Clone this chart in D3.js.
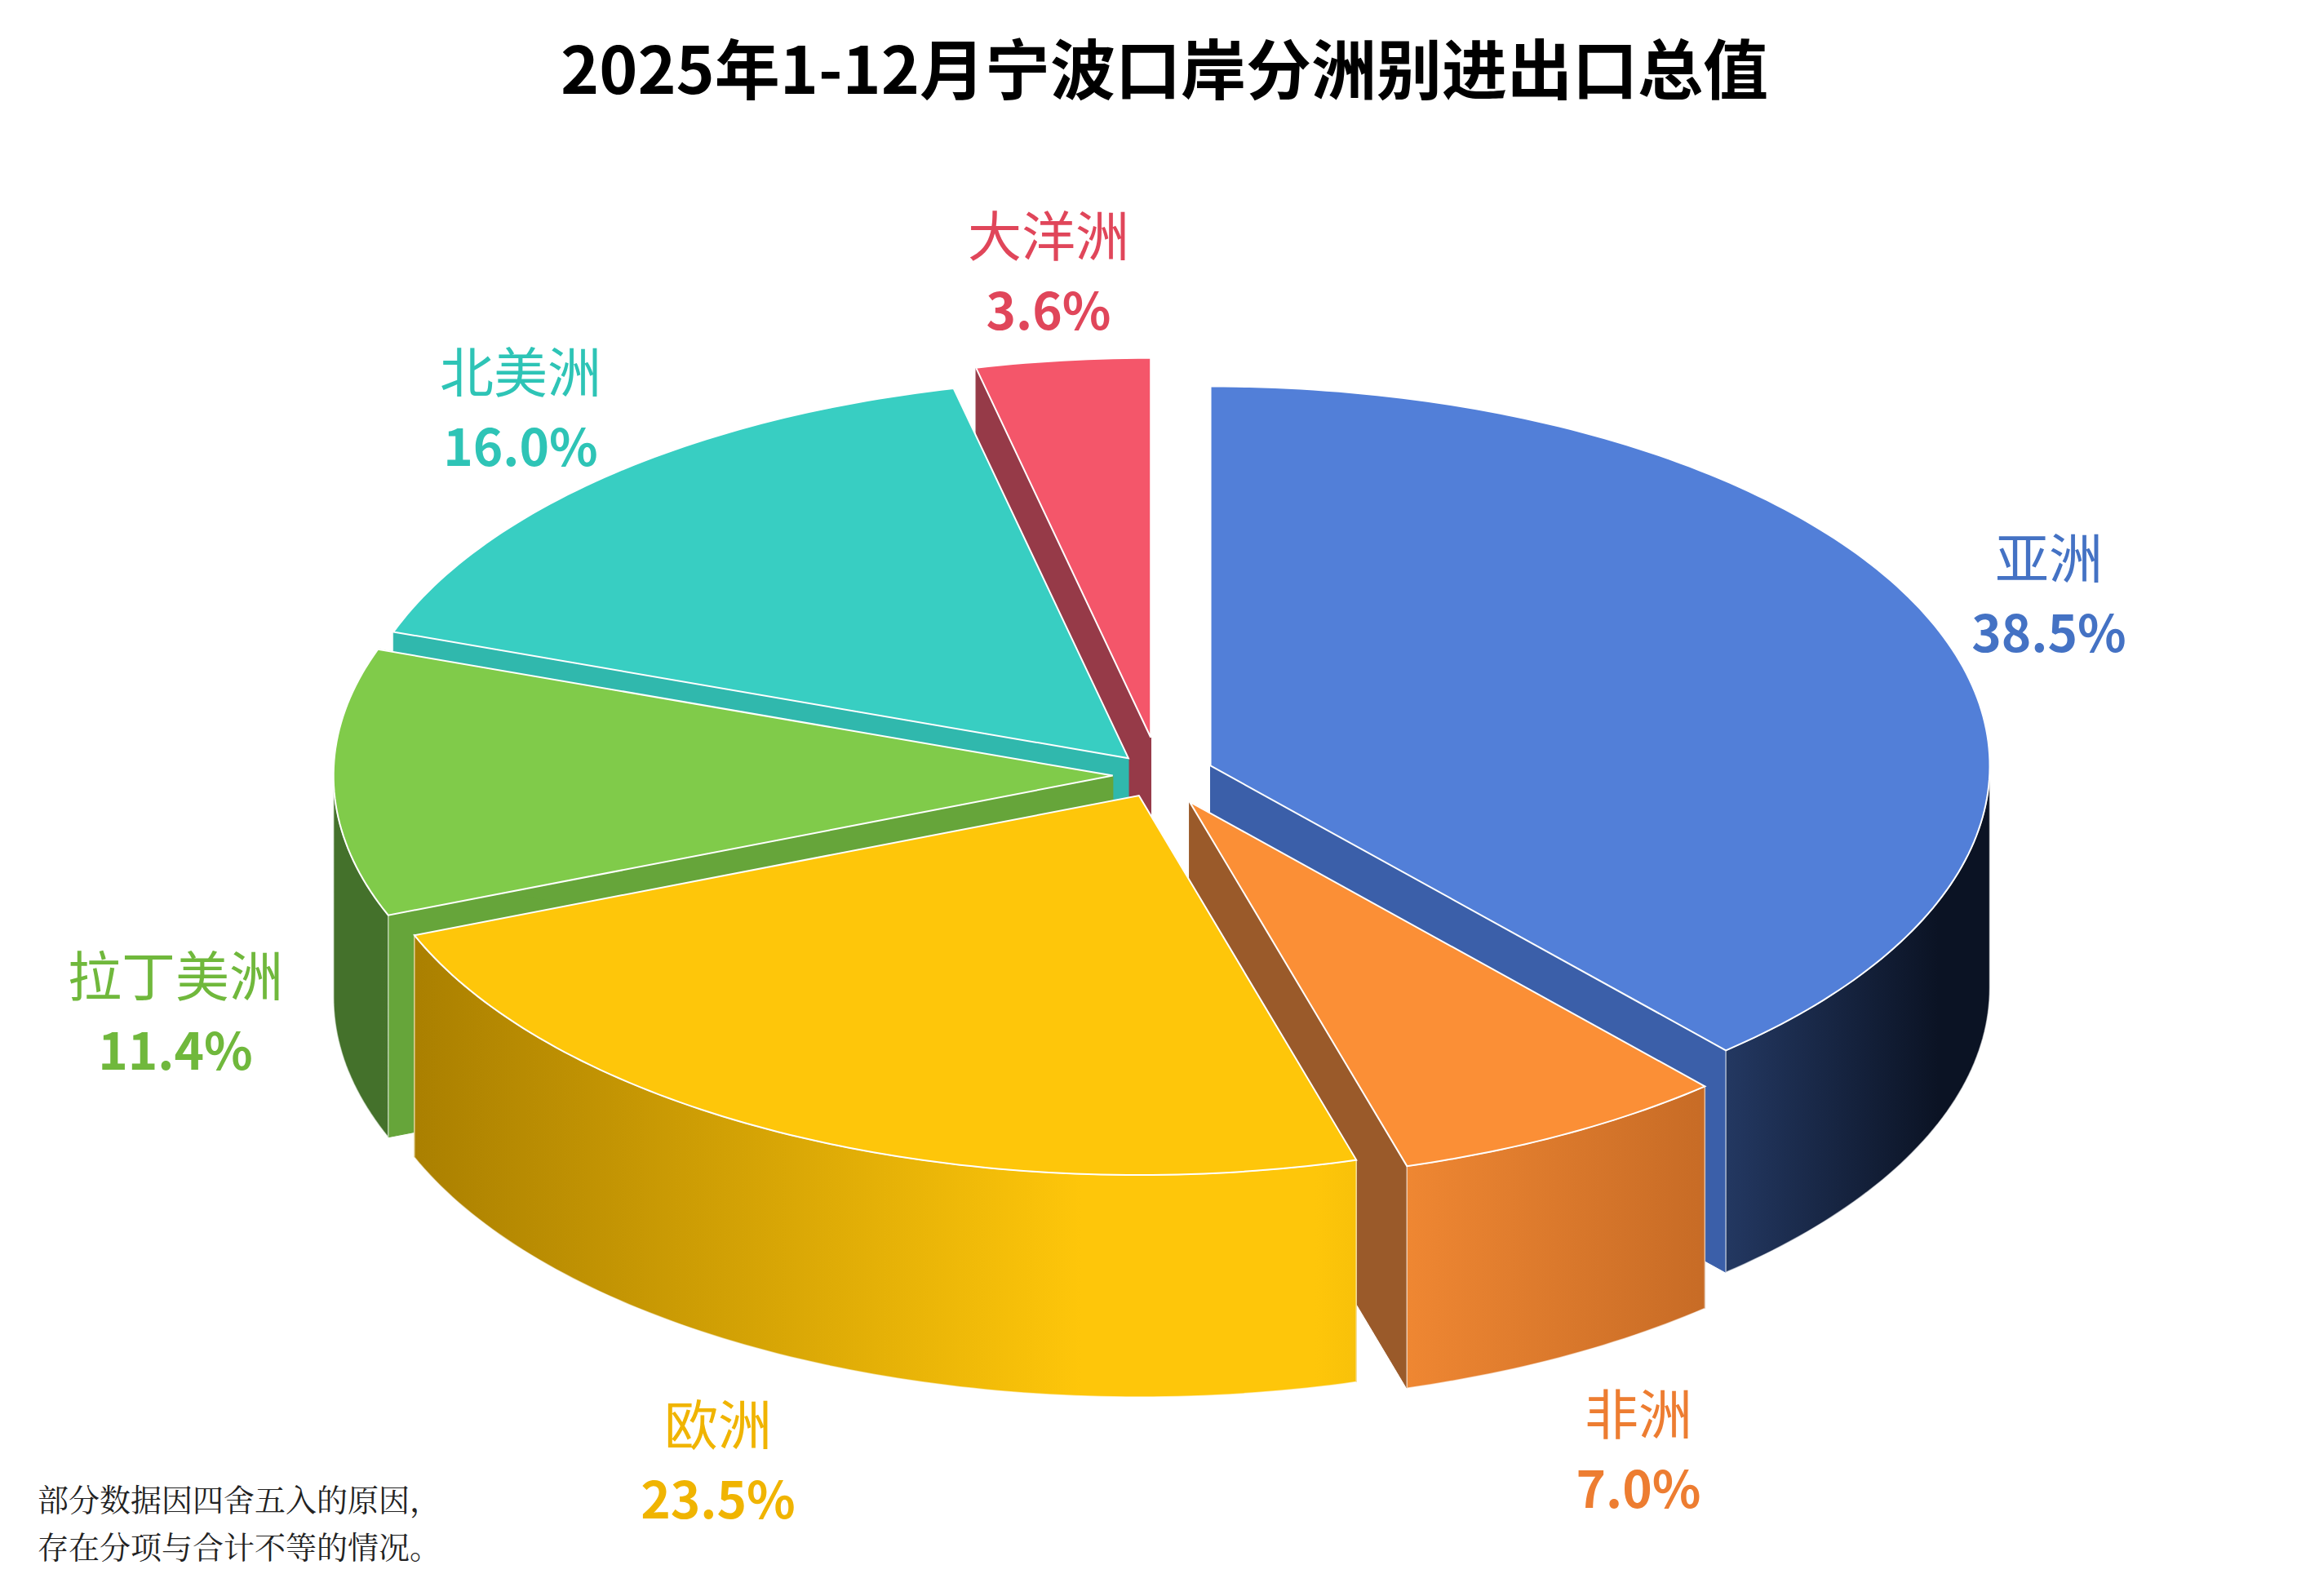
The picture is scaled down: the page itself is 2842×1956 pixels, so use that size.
<!DOCTYPE html>
<html><head><meta charset="utf-8">
<script src="https://cdn.jsdelivr.net/npm/d3@7"></script>
<style>body{margin:0;background:#fff}</style>
</head><body><div id="chart"></div>
<script>
const regions = ["亚洲", "非洲", "欧洲", "拉丁美洲", "北美洲", "大洋洲"];
const shares = [38.5, 7.0, 23.5, 11.4, 16.0, 3.6];
const topColors = ["#527fd8", "#fb8f36", "#fec60a", "#80cb4a", "#38cec2", "#f4566a"];
const sideColors = ["#3b5fa9", "#9a5a2a", "#c99a00", "#66a53a", "#30b8ad", "#963a48"];
const wallDark = ["#0b1324", "#a8561c", "#a67c00", "#44712b", "#2aa095", "#7a2c38"];
const labelColors = ["#4472c4", "#ed7d31", "#f0b400", "#70b83c", "#2ec4b6", "#e0465a"];
const explode = [0.07, 0.08, 0.06, 0.06, 0.06, 0.1];
// label anchor points (layout)
const labelPos = [[2511, 687], [2008, 1736], [880, 1749], [215, 1199], [638, 459], [1285, 292]];

const W = 2842, H = 1956;
const cx = 1421, cy = 950, rx = 955, ry = 465, depth = 272;

const svg = d3.select("#chart").append("svg").attr("width", W).attr("height", H);
const defs = svg.append("defs");

const pie = d3.pie().sort(null).value(d => d)(shares);

const P = (t, r, o, dz) => [o[0] + cx + r * rx * Math.sin(t), o[1] + cy - r * ry * Math.cos(t) + (dz || 0)];

const slices = pie.map((p, i) => {
  const mid = (p.startAngle + p.endAngle) / 2;
  const o = [explode[i] * rx * Math.sin(mid), -explode[i] * ry * Math.cos(mid)];
  return {i, a0: p.startAngle, a1: p.endAngle, mid, o};
});

slices.forEach(s => {
  const g = defs.append("linearGradient").attr("id", "wall" + s.i)
    .attr("gradientUnits", "userSpaceOnUse")
    .attr("x1", cx - rx).attr("x2", cx + rx).attr("y1", 0).attr("y2", 0);
  g.append("stop").attr("offset", "0%").attr("stop-color", wallDark[s.i]);
  g.append("stop").attr("offset", "45%").attr("stop-color", topColors[s.i]);
  g.append("stop").attr("offset", "60%").attr("stop-color", topColors[s.i]);
  g.append("stop").attr("offset", "100%").attr("stop-color", wallDark[s.i]);
});

const arcPts = (a0, a1, o, dz) => {
  const n = Math.max(8, Math.ceil((a1 - a0) * 60));
  return d3.range(n + 1).map(k => P(a0 + (a1 - a0) * k / n, 1, o, dz));
};
const line = d3.line();

// back to front
const order = slices.slice().sort((a, b) => (-Math.cos(a.mid)) - (-Math.cos(b.mid)));
order.forEach(s => {
  const g = svg.append("g");
  const c0 = P(0, 0, s.o), c1 = P(0, 0, s.o, depth);
  [s.a0, s.a1].forEach(a => {
    const r0 = P(a, 1, s.o), r1 = P(a, 1, s.o, depth);
    g.append("path").attr("d", line([c0, r0, r1, c1]) + "Z")
      .attr("fill", sideColors[s.i]).attr("stroke", sideColors[s.i]).attr("stroke-width", 1);
  });
  const f0 = Math.max(s.a0, Math.PI / 2), f1 = Math.min(s.a1, 3 * Math.PI / 2);
  if (f1 > f0) {
    const top = arcPts(f0, f1, s.o), bot = arcPts(f0, f1, s.o, depth).reverse();
    g.append("path").attr("d", line(top.concat(bot)) + "Z")
      .attr("fill", `url(#wall${s.i})`).attr("stroke", "#fff").attr("stroke-width", 1.5).attr("stroke-opacity", 0.6);
  }
  const topFace = [c0].concat(arcPts(s.a0, s.a1, s.o));
  g.append("path").attr("d", line(topFace) + "Z")
    .attr("fill", topColors[s.i]).attr("stroke", "#fff").attr("stroke-width", 2);
});

svg.append("text").attr("x", W / 2 + 6).attr("y", 115).attr("text-anchor", "middle")
  .attr("font-family", "Noto Sans CJK SC").attr("font-weight", "bold").attr("font-size", 80)
  .text("2025年1-12月宁波口岸分洲别进出口总值");

regions.forEach((r, i) => {
  const t = svg.append("text").attr("text-anchor", "middle")
    .attr("font-family", "Noto Sans CJK SC").attr("fill", labelColors[i]);
  t.append("tspan").attr("x", labelPos[i][0]).attr("y", labelPos[i][1] + 22).attr("font-size", 66).text(r);
  t.append("tspan").attr("x", labelPos[i][0]).attr("y", labelPos[i][1] + 112).attr("font-size", 62)
    .attr("font-weight", "bold").text(shares[i].toFixed(1) + "%");
});

const note = svg.append("text").attr("font-family", "Noto Serif CJK SC, Noto Sans CJK SC").attr("font-size", 38).attr("fill", "#222");
note.append("tspan").attr("x", 46).attr("y", 1852).text("部分数据因四舍五入的原因，");
note.append("tspan").attr("x", 46).attr("y", 1910).text("存在分项与合计不等的情况。");
</script></body></html>
